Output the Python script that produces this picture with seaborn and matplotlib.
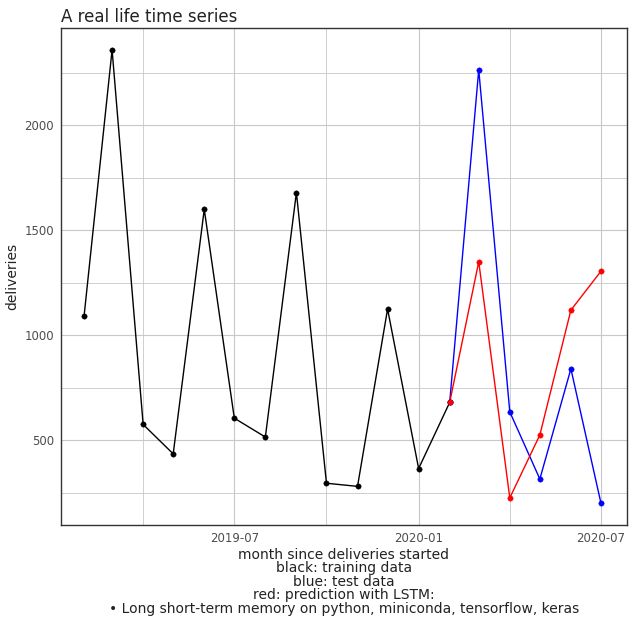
import pandas as pd
import numpy as np
import matplotlib
matplotlib.use("Agg")
import matplotlib.pyplot as plt
import matplotlib.dates as mdates
import seaborn as sns

# ---- data ----
train_months = pd.date_range("2019-02-01", "2020-02-01", freq="MS")
train_vals = [1090, 2360, 575, 435, 1600, 605, 515, 1680, 295, 280, 1125, 365, 680]

test_months = pd.date_range("2020-02-01", "2020-07-01", freq="MS")
test_vals = [680, 2265, 635, 315, 840, 200]
pred_vals = [680, 1350, 225, 525, 1120, 1305]

train = pd.DataFrame({"month": train_months, "deliveries": train_vals})
test = pd.DataFrame({"month": test_months, "deliveries": test_vals})
pred = pd.DataFrame({"month": test_months, "deliveries": pred_vals})

sns.set_theme(style="white")
plt.rcParams['font.family'] = ['DejaVu Sans']

fig = plt.figure(figsize=(6.34, 6.33), dpi=100)
ax = fig.add_axes([61 / 634, 1 - 525 / 633, (627 - 61) / 634, (525 - 28) / 633])

for df, col in [(train, "black"), (test, "blue"), (pred, "red")]:
    sns.lineplot(data=df, x="month", y="deliveries", color=col, lw=1, ax=ax)
    sns.scatterplot(data=df, x="month", y="deliveries", color=col, s=15,
                    edgecolor=col, zorder=3, ax=ax)

ax.set_xlim(pd.Timestamp("2019-01-09"), pd.Timestamp("2020-07-27"))
ax.set_ylim(96, 2464)
ax.set_yticks([500, 1000, 1500, 2000])
ax.set_yticks([250, 750, 1250, 1750, 2250], minor=True)
ax.set_xticks([pd.Timestamp("2019-07-01"), pd.Timestamp("2020-01-01"), pd.Timestamp("2020-07-01")])
ax.set_xticks([pd.Timestamp("2019-04-01"), pd.Timestamp("2019-10-01"), pd.Timestamp("2020-04-01")], minor=True)
ax.xaxis.set_major_formatter(mdates.DateFormatter("%Y-%m"))
ax.grid(True, which="major", color="#c8c8c8", lw=0.8)
ax.grid(True, which="minor", color="#c8c8c8", lw=0.6)
ax.set_axisbelow(True)
for s in ax.spines.values():
    s.set_color("#333333")
    s.set_linewidth(1)
ax.tick_params(axis="both", which="major", labelsize=8.5, colors="#4d4d4d", length=3, pad=2)
ax.tick_params(axis="both", which="minor", length=0)
ax.tick_params(axis="both", which="major", color="#333333")
ax.set_ylabel("deliveries", fontsize=10, color="#222222")
ax.set_xlabel("month since deliveries started\nblack: training data\nblue: test data\n"
              "red: prediction with LSTM:\n\u2022 Long short-term memory on python, miniconda, tensorflow, keras",
              fontsize=10, color="#222222", labelpad=2, linespacing=0.95)
ax.set_title("A real life time series", loc="left", fontsize=12, color="#222222", pad=4)

fig.savefig("out.png", dpi=100)
